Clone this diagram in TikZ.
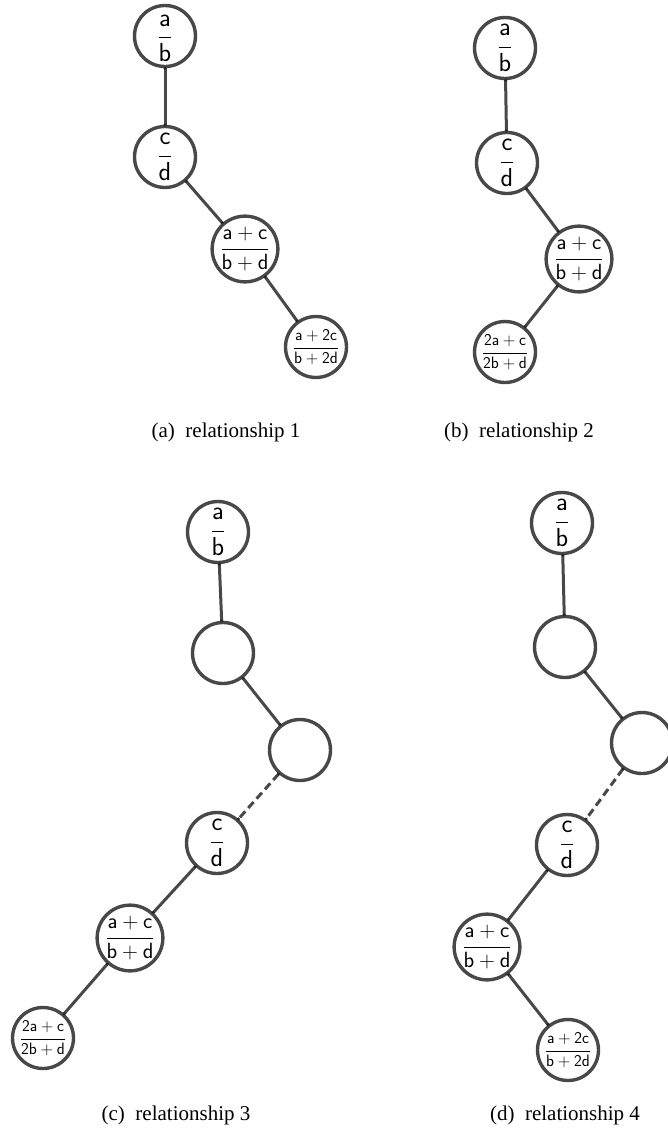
\RequirePackage{fix-cm}
\documentclass[tikz,border=0pt]{standalone}
\usepackage{fontspec}
\newfontfamily\capfont{Liberation Serif}
\definecolor{lc}{RGB}{72,72,72}
\tikzset{
  nd/.style={circle, draw=lc, line width=3.4pt, minimum size=61pt, inner sep=0pt, fill=white},
  big/.style={font=\fontsize{26}{30}\selectfont},
  mid/.style={font=\fontsize{22}{26}\selectfont},
  sml/.style={font=\fontsize{16.5}{19}\selectfont},
  ln/.style={draw=lc, line width=3pt},
  dln/.style={ln, dash pattern=on 8pt off 4.5pt},
  dot/.style={circle, fill=black!85, inner sep=0pt, minimum size=3.4pt},
  captxt/.style={font=\capfont\fontsize{21}{24}\selectfont, inner sep=0pt},
}
\newcommand\conn[3][ln]{\draw[#1] (#2) -- node[pos=0,dot](#2-#3-s){} node[pos=1,dot](#2-#3-e){} (#3);}
\newcommand\fab{$\displaystyle\frac{\mathsf{a}}{\mathsf{b}}$}
\newcommand\fcd{$\displaystyle\frac{\mathsf{c}}{\mathsf{d}}$}
\newcommand\fac{$\displaystyle\frac{\mathsf{a}+\mathsf{c}}{\mathsf{b}+\mathsf{d}}$}
\newcommand\faac{$\displaystyle\frac{\mathsf{2a}+\mathsf{c}}{\mathsf{2b}+\mathsf{d}}$}
\newcommand\facc{$\displaystyle\frac{\mathsf{a}+\mathsf{2c}}{\mathsf{b}+\mathsf{2d}}$}
\begin{document}
\begin{tikzpicture}[x=1pt,y=-1pt]
\useasboundingbox (0,0) rectangle (668,1128);
% (a)
\node[nd,big] (A1) at (165,36) {\raisebox{-8pt}[0pt][0pt]{\fab}};
\node[nd,big] (A2) at (165,157) {\fcd};
\node[nd,mid] (A3) at (245,249) {\fac};
\node[nd,sml] (A4) at (316,347) {\facc};
\conn{A1}{A2}\conn{A2}{A3}\conn{A3}{A4}
\node[captxt] (capA) at (226,432) {(a)\enspace relationship 1};
% (b)
\node[nd,big] (B1) at (505,48) {\fab};
\node[nd,big] (B2) at (507,163) {\fcd};
\node[nd,mid] (B3) at (579,259) {\fac};
\node[nd,sml] (B4) at (505,352) {\faac};
\conn{B1}{B2}\conn{B2}{B3}\conn{B3}{B4}
\node[captxt] (capB) at (519,432) {(b)\enspace relationship 2};
% (c)
\node[nd,big] (C1) at (218,532) {\fab};
\node[nd] (C2) at (223,653) {};
\node[nd] (C3) at (300,750) {};
\node[nd,big] (C4) at (217,843) {\fcd};
\node[nd,mid] (C5) at (130,938) {\fac};
\node[nd,sml] (C6) at (43,1038) {\faac};
\conn{C1}{C2}\conn{C2}{C3}\conn[dln]{C3}{C4}\conn{C4}{C5}\conn{C5}{C6}
\node[captxt] (capC) at (176,1115) {(c)\enspace relationship 3};
% (d)
\node[nd,big] (D1) at (562,523) {\fab};
\node[nd] (D2) at (565,647) {};
\node[nd] (D3) at (642,743) {};
\node[nd,big] (D4) at (567,845) {\fcd};
\node[nd,mid] (D5) at (487,947) {\fac};
\node[nd,sml] (D6) at (568,1050) {\facc};
\conn{D1}{D2}\conn{D2}{D3}\conn[dln]{D3}{D4}\conn{D4}{D5}\conn{D5}{D6}
\node[captxt] (capD) at (565,1115) {(d)\enspace relationship 4};
\end{tikzpicture}
\end{document}
